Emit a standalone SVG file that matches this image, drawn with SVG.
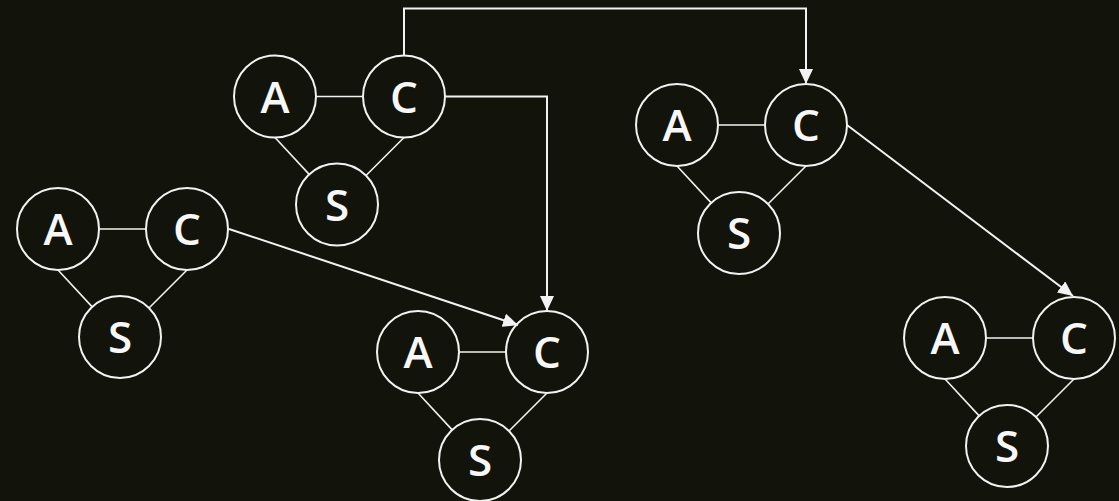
<svg xmlns="http://www.w3.org/2000/svg" width="1119" height="501" viewBox="0 0 1119 501">
<defs>
<style>
.bg{fill:#12130a}
.n circle{fill:#12130a;stroke:#f2f2f2;stroke-width:2}
.n text{fill:#f7f7f7;font-family:"Open Sans","Lato","DejaVu Sans",sans-serif;font-weight:600;font-size:44px;text-anchor:middle}
.e{stroke:#f2f2f2;stroke-width:1.6;fill:none}
.c{stroke:#f2f2f2;stroke-width:2;fill:none}
</style>
<marker id="ah" markerUnits="userSpaceOnUse" markerWidth="15" markerHeight="14" refX="15" refY="7" orient="auto" viewBox="0 0 15 14">
<path d="M0,0 L15,7 L0,14 z" fill="#f2f2f2"/>
</marker>
<g id="tri">
<line class="e" x1="41" y1="0" x2="88" y2="0"/>
<line class="e" x1="0" y1="41" x2="34.2" y2="77.9"/>
<line class="e" x1="129" y1="41" x2="91" y2="79"/>
</g>
</defs>
<rect class="bg" x="0" y="0" width="1119" height="501"/>

<g id="graph1" transform="translate(275,96.5)">
<use href="#tri"/>
<g id="g1-A" class="n"><circle cx="0" cy="0" r="41"/><text x="0" y="16">A</text></g>
<g id="g1-C" class="n"><circle cx="129" cy="0" r="41"/><text x="129" y="16">C</text></g>
<g id="g1-S" class="n"><circle cx="62" cy="108" r="41"/><text x="62" y="124">S</text></g>
</g>

<g id="graph2" transform="translate(58,229)">
<use href="#tri"/>
<g id="g2-A" class="n"><circle cx="0" cy="0" r="41"/><text x="0" y="16">A</text></g>
<g id="g2-C" class="n"><circle cx="129" cy="0" r="41"/><text x="129" y="16">C</text></g>
<g id="g2-S" class="n"><circle cx="62" cy="108" r="41"/><text x="62" y="124">S</text></g>
</g>

<g id="graph3" transform="translate(418,352)">
<use href="#tri"/>
<g id="g3-A" class="n"><circle cx="0" cy="0" r="41"/><text x="0" y="16">A</text></g>
<g id="g3-C" class="n"><circle cx="129" cy="0" r="41"/><text x="129" y="16">C</text></g>
<g id="g3-S" class="n"><circle cx="62" cy="108" r="41"/><text x="62" y="124">S</text></g>
</g>

<g id="graph4" transform="translate(677,125)">
<use href="#tri"/>
<g id="g4-A" class="n"><circle cx="0" cy="0" r="41"/><text x="0" y="16">A</text></g>
<g id="g4-C" class="n"><circle cx="129" cy="0" r="41"/><text x="129" y="16">C</text></g>
<g id="g4-S" class="n"><circle cx="62" cy="108" r="41"/><text x="62" y="124">S</text></g>
</g>

<g id="graph5" transform="translate(945,338)">
<use href="#tri"/>
<g id="g5-A" class="n"><circle cx="0" cy="0" r="41"/><text x="0" y="16">A</text></g>
<g id="g5-C" class="n"><circle cx="129" cy="0" r="41"/><text x="129" y="16">C</text></g>
<g id="g5-S" class="n"><circle cx="62" cy="108" r="41"/><text x="62" y="124">S</text></g>
</g>

<g id="connectors">
<path class="c" d="M404,55.5 V8.5 H806 V84" marker-end="url(#ah)"/>
<path class="c" d="M445,96.5 H547 V311" marker-end="url(#ah)"/>
<path class="c" d="M229,229 L518,325" marker-end="url(#ah)"/>
<path class="c" d="M847,125 L1073,296" marker-end="url(#ah)"/>
</g>
</svg>
